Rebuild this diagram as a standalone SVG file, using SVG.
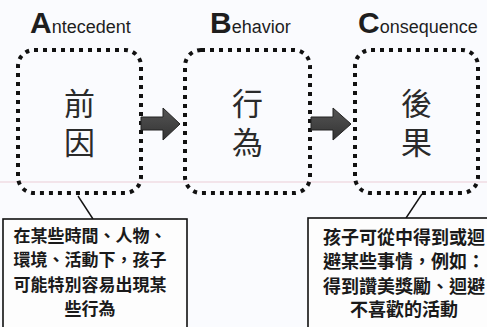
<svg xmlns="http://www.w3.org/2000/svg" width="487" height="327" viewBox="0 0 487 327">
<defs>
<style>
.hdr{font-family:"Liberation Sans",Arial,sans-serif;fill:#1e1e1e}
.big{font-size:30px;font-weight:bold}
.sm{font-size:18px}
.dot{fill:none;stroke:#111;stroke-width:4;stroke-dasharray:4 5}
.main{font-family:"Noto Sans CJK TC","Noto Sans CJK SC",sans-serif;font-size:31px;fill:#2a2a2a;text-anchor:middle}
.note{font-family:"Noto Sans CJK TC","Noto Sans CJK SC",sans-serif;font-weight:bold;fill:#1a1a1a;text-anchor:middle}
.callout{fill:#fdfdfd;stroke:#111;stroke-width:1.6}
.arrow{fill:url(#ag);stroke:#222;stroke-width:1}
.lead{stroke:#111;stroke-width:1.4;fill:none}
</style>
<linearGradient id="ag" x1="0" y1="0" x2="0" y2="1">
<stop offset="0" stop-color="#555"/>
<stop offset="1" stop-color="#333"/>
</linearGradient>
</defs>
<rect width="487" height="327" fill="#fafbfe"/>
<line x1="0" y1="182" x2="487" y2="182" stroke="#ebcdd6" stroke-width="1"/>

<g id="header-A"><text class="hdr" x="30" y="33"><tspan class="big">A</tspan><tspan class="sm">ntecedent</tspan></text></g>
<g id="header-B"><text class="hdr" x="210" y="33"><tspan class="big">B</tspan><tspan class="sm">ehavior</tspan></text></g>
<g id="header-C"><text class="hdr" x="358" y="33"><tspan class="big">C</tspan><tspan class="sm">onsequence</tspan></text></g>

<g id="node-antecedent">
<rect class="dot" x="18" y="50" width="123" height="143" rx="16"/>
<text class="main" x="79.5" y="115">前<tspan x="79.5" dy="39">因</tspan></text>
</g>
<g id="node-behavior">
<rect class="dot" x="185" y="50" width="125" height="143" rx="16"/>
<text class="main" x="247.5" y="115">行<tspan x="247.5" dy="39">為</tspan></text>
</g>
<g id="node-consequence">
<rect class="dot" x="355" y="50" width="123" height="143" rx="16"/>
<text class="main" x="416.5" y="115">後<tspan x="416.5" dy="39">果</tspan></text>
</g>

<g id="connectors">
<path class="arrow" d="M141 117 H163 V108 L180 124 L163 140 V130 H141 Z"/>
<path class="arrow" d="M311 117 H333 V108 L351 124 L333 140 V130 H311 Z"/>
<line class="lead" x1="78" y1="196" x2="93" y2="219"/>
<line class="lead" x1="422" y1="194" x2="406" y2="218"/>
</g>

<g id="note-antecedent">
<rect class="callout" x="3" y="219" width="184" height="115"/>
<text class="note" font-size="17" x="90" y="242">在某些時間、人物、</text>
<text class="note" font-size="17" x="90" y="266">環境、活動下，孩子</text>
<text class="note" font-size="17" x="90" y="291">可能特別容易出現某</text>
<text class="note" font-size="17" x="90" y="315">些行為</text>
</g>
<g id="note-consequence">
<rect class="callout" x="308" y="218" width="185" height="116"/>
<text class="note" font-size="18" x="404" y="244">孩子可從中得到或迴</text>
<text class="note" font-size="18" x="404" y="268">避某些事情，例如：</text>
<text class="note" font-size="18" x="404" y="293">得到讚美獎勵、迴避</text>
<text class="note" font-size="18" x="404" y="316">不喜歡的活動</text>
</g>
</svg>
